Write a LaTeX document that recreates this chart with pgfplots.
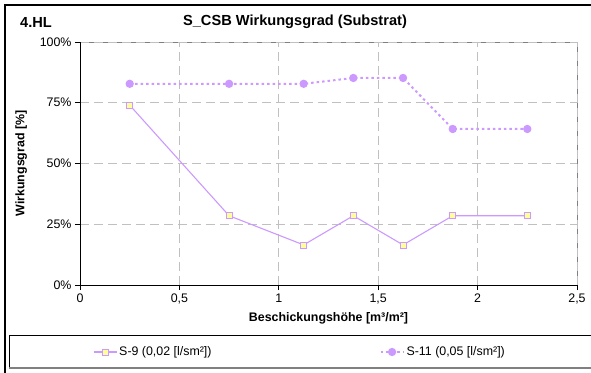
\documentclass[border=0pt]{standalone}
\usepackage{fontspec}
\setmainfont{Liberation Sans}
\usepackage{pgfplots}
\pgfplotsset{compat=1.18}

\definecolor{lav}{HTML}{CC99FF}
\definecolor{paleyel}{HTML}{FFFF99}
\definecolor{gridgray}{HTML}{C0C0C0}

\begin{document}
\begin{tikzpicture}[x=1pt,y=1pt]
\useasboundingbox (0,0) rectangle (591,372);
% outer chart frame (cut off at right and bottom)
\draw[line width=2.2pt] (5,-5) -- (5,367) -- (600,367);
% legend box
\draw[line width=0.8pt] (9,5) -- (9,37) -- (600,37);
\draw[line width=1.6pt, gray] (9,4) -- (600,4);

\node[font=\bfseries\fontsize{14.6}{17}\selectfont] at (36,350) {4.HL};
\node[font=\bfseries\fontsize{14.6}{17}\selectfont] at (295,350) {S\_CSB Wirkungsgrad (Substrat)};

\begin{axis}[
    at={(80pt,87pt)}, anchor=south west,
    scale only axis, width=497pt, height=243pt,
    xmin=0, xmax=2.5, ymin=0, ymax=100,
    xtick={0,0.5,...,2.5}, ytick={0,25,50,75,100},
    axis lines=left, axis line style={-, black, line width=0.9pt},
    axis background/.style={draw=gray, line width=0.9pt},
    tick align=outside, major tick length=5pt,
    tick style={black, line width=0.9pt},
    grid=major,
    major grid style={gridgray, line width=0.9pt, dash pattern=on 9pt off 5pt},
    /pgf/number format/assume math mode=true,
    /pgf/number format/use comma,
    yticklabel={\pgfmathprintnumber{\tick}\%},
    ticklabel style={font=\fontsize{12.4}{14}\selectfont},
    xlabel={Beschickungshöhe [m³/m²]},
    ylabel={Wirkungsgrad [\%]},
    label style={font=\bfseries\fontsize{12.4}{14}\selectfont},
    xlabel style={yshift=-2pt},
    ylabel style={yshift=6pt},
    legend columns=2,
    legend style={at={(0.02,-0.2757)}, anchor=west, draw=none, fill=none,
        font=\fontsize{12.4}{14}\selectfont,
        /tikz/every even column/.append style={column sep=166pt}},
    legend image code/.code={\draw[mark repeat=2,mark phase=2,#1]
        plot coordinates {(0pt,0pt)(11.5pt,0pt)(23pt,0pt)};},
    clip=false,
]
\addplot[color=lav, line width=1.1pt, mark=square*,
    mark options={solid, fill=paleyel, draw=lav, line width=0.8pt}, mark size=3pt]
    coordinates {(0.25,74)(0.75,28.5)(1.125,16.5)(1.375,28.5)(1.625,16.5)(1.875,28.5)(2.25,28.5)};
\addlegendentry{S-9 (0,02 [l/sm²])}
\addplot[color=lav, line width=2pt, dash pattern=on 2.5pt off 3pt, mark=*,
    mark options={solid, fill=lav, draw=lav}, mark size=3.1pt]
    coordinates {(0.25,82.8)(0.75,82.8)(1.125,82.8)(1.375,85.2)(1.625,85.2)(1.875,64.2)(2.25,64.2)};
\addlegendentry{S-11 (0,05 [l/sm²])}
\end{axis}
\end{tikzpicture}
\end{document}
